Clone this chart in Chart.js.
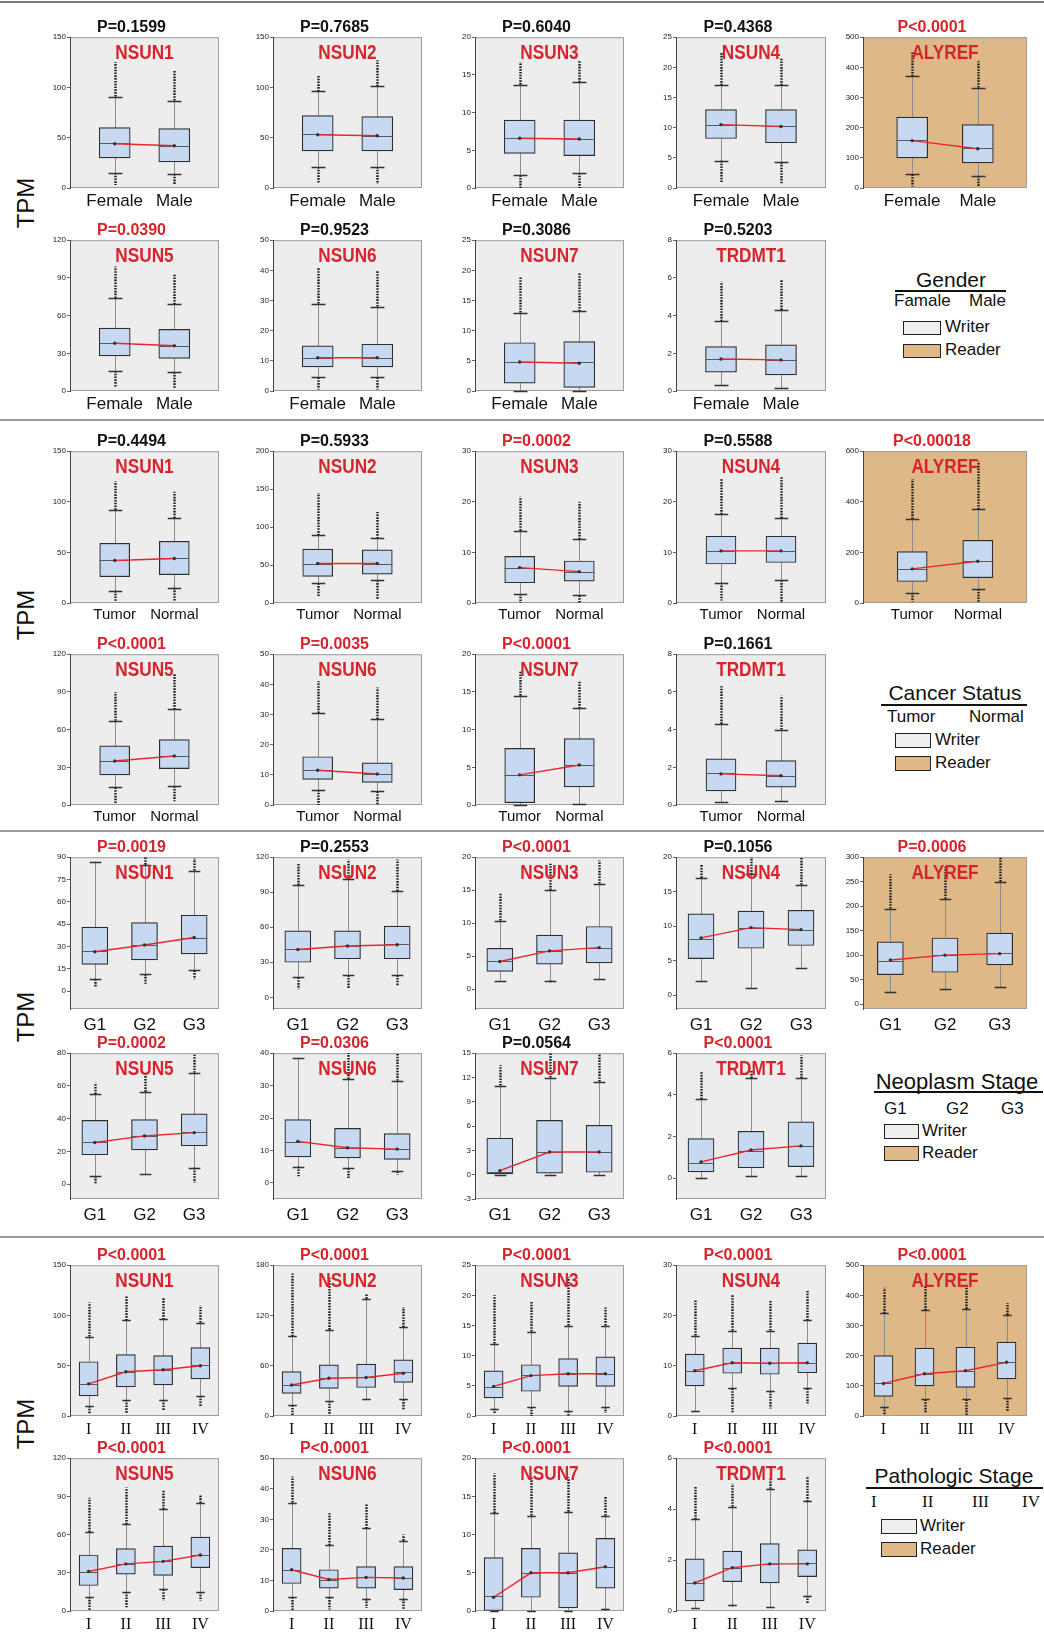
<!DOCTYPE html>
<html>
<head>
<meta charset="utf-8">
<script src="https://cdn.jsdelivr.net/npm/chart.js@4.4.1/dist/chart.umd.min.js"></script>
<style>
body { margin: 0; background: #fff; width: 1044px; height: 1636px; position: relative; overflow: hidden;
       font-family: "Liberation Sans", Arial, sans-serif; color: #111; }
canvas { position: absolute; }
.sep { position: absolute; left: 0; width: 1044px; height: 2px; background: #9a9a9a; }
.tpm { position: absolute; width: 70px; height: 30px; line-height: 30px; text-align: center; font-size: 24px;
       transform: rotate(-90deg); }
.lg { position: absolute; white-space: nowrap; }
.lg-title { font-size: 21px; text-align: center; width: 200px; line-height: 24px; }
.lg-line { position: absolute; height: 2px; background: #111; }
.lg-cat { font-size: 17px; line-height: 18px; }
.lg-box { position: absolute; border: 1.5px solid #222; box-sizing: border-box; }
.lg-txt { font-size: 17px; line-height: 18px; }
</style>
</head>
<body>

<div class="sep" style="top:1px;background:#777"></div>
<div class="sep" style="top:419px"></div>
<div class="sep" style="top:830px"></div>
<div class="sep" style="top:1236px"></div>

<div class="tpm" style="left:-9px;top:188px">TPM</div>
<div class="tpm" style="left:-9px;top:600px">TPM</div>
<div class="tpm" style="left:-9px;top:1002px">TPM</div>
<div class="tpm" style="left:-9px;top:1409px">TPM</div>

<!-- legend: gender -->
<div class="lg lg-title" style="left:851px;top:268px">Gender</div>
<div class="lg-line" style="left:895px;top:290px;width:111px"></div>
<div class="lg lg-cat" style="left:894px;top:292px">Famale</div>
<div class="lg lg-cat" style="left:969px;top:292px">Male</div>
<div class="lg-box" style="left:903px;top:321px;width:38px;height:14px;background:#efefef"></div>
<div class="lg lg-txt" style="left:945px;top:318px">Writer</div>
<div class="lg-box" style="left:903px;top:344px;width:38px;height:14px;background:#deb887"></div>
<div class="lg lg-txt" style="left:945px;top:341px">Reader</div>

<!-- legend: cancer status -->
<div class="lg lg-title" style="left:855px;top:681px">Cancer Status</div>
<div class="lg-line" style="left:881px;top:704px;width:146px"></div>
<div class="lg lg-cat" style="left:887px;top:708px">Tumor</div>
<div class="lg lg-cat" style="left:969px;top:708px">Normal</div>
<div class="lg-box" style="left:895px;top:733px;width:36px;height:15px;background:#efefef"></div>
<div class="lg lg-txt" style="left:935px;top:731px">Writer</div>
<div class="lg-box" style="left:895px;top:756px;width:36px;height:15px;background:#deb887"></div>
<div class="lg lg-txt" style="left:935px;top:754px">Reader</div>

<!-- legend: neoplasm stage -->
<div class="lg lg-title" style="left:857px;top:1070px;font-size:22px">Neoplasm Stage</div>
<div class="lg-line" style="left:874px;top:1091px;width:169px"></div>
<div class="lg lg-cat" style="left:884px;top:1100px">G1</div>
<div class="lg lg-cat" style="left:946px;top:1100px">G2</div>
<div class="lg lg-cat" style="left:1001px;top:1100px">G3</div>
<div class="lg-box" style="left:884px;top:1124px;width:35px;height:15px;background:#efefef"></div>
<div class="lg lg-txt" style="left:922px;top:1122px">Writer</div>
<div class="lg-box" style="left:884px;top:1146px;width:35px;height:15px;background:#deb887"></div>
<div class="lg lg-txt" style="left:922px;top:1144px">Reader</div>

<!-- legend: pathologic stage -->
<div class="lg lg-title" style="left:854px;top:1464px">Pathologic Stage</div>
<div class="lg-line" style="left:866px;top:1487px;width:177px"></div>
<div class="lg lg-cat" style="left:871px;top:1493px;font-family:'Liberation Serif',serif">I</div>
<div class="lg lg-cat" style="left:922px;top:1493px;font-family:'Liberation Serif',serif">II</div>
<div class="lg lg-cat" style="left:972px;top:1493px;font-family:'Liberation Serif',serif">III</div>
<div class="lg lg-cat" style="left:1022px;top:1493px;font-family:'Liberation Serif',serif">IV</div>
<div class="lg-box" style="left:881px;top:1519px;width:36px;height:15px;background:#efefef"></div>
<div class="lg lg-txt" style="left:920px;top:1517px">Writer</div>
<div class="lg-box" style="left:881px;top:1542px;width:36px;height:15px;background:#deb887"></div>
<div class="lg lg-txt" style="left:920px;top:1540px">Reader</div>

<script>
// genes in panel order (5 on the first row, 4 on the second)
const genes = ['NSUN1', 'NSUN2', 'NSUN3', 'NSUN4', 'ALYREF', 'NSUN5', 'NSUN6', 'NSUN7', 'TRDMT1'];
const geneIsReader = [false, false, false, false, true, false, false, false, false];

// ---- Gender ----
const genderCats = ['Female', 'Male'];
const genderP = ['P=0.1599', 'P=0.7685', 'P=0.6040', 'P=0.4368', 'P<0.0001', 'P=0.0390', 'P=0.9523', 'P=0.3086', 'P=0.5203'];
const genderPRed = [0, 0, 0, 0, 1, 1, 0, 0, 0];
const genderYMin = [0, 0, 0, 0, 0, 0, 0, 0, 0];
const genderYMax = [150, 150, 20, 25, 500, 120, 50, 25, 8];
const genderYStep = [50, 50, 5, 5, 100, 30, 10, 5, 2];
const genderQ1 = [[30, 26], [37, 37], [4.6, 4.3], [8.2, 7.5], [100, 83], [28, 26], [8, 8], [1.3, 0.6], [1.0, 0.85]];
const genderMed = [[45, 42], [54, 52], [6.6, 6.5], [10.5, 10.2], [160, 133], [38, 36], [11, 11], [4.8, 4.8], [1.7, 1.65]];
const genderQ3 = [[60, 59], [72, 71], [9, 9], [13, 13], [235, 210], [50, 49], [15, 15.5], [8, 8.2], [2.35, 2.45]];
const genderMean = [[44, 42], [53, 52], [6.6, 6.5], [10.5, 10.2], [157, 130], [38, 36], [11, 11], [4.8, 4.6], [1.7, 1.65]];
const genderLo = [[15, 14], [21, 21], [1.7, 2.0], [4.5, 4.3], [45, 40], [16, 15], [4.5, 4.5], [0, 0], [0.3, 0.15]];
const genderHi = [[91, 87], [96, 101], [13.7, 14], [17, 17], [370, 333], [74, 69], [29, 28], [13, 13.2], [3.7, 4.3]];
const genderOutMax = [[125, 117], [112, 127], [16.7, 16.8], [22.5, 21.5], [450, 420], [99, 93], [41, 40], [19, 19.7], [5.8, 5.9]];
const genderOutMin = [[3, 3], [5, 4], [0, 0], [1, 0.8], [5, 5], [3, 2], [0.5, 0.5], [0, 0], [0.3, 0.15]];

// ---- Cancer status ----
const tumorCats = ['Tumor', 'Normal'];
const tumorP = ['P=0.4494', 'P=0.5933', 'P=0.0002', 'P=0.5588', 'P<0.00018', 'P<0.0001', 'P=0.0035', 'P<0.0001', 'P=0.1661'];
const tumorPRed = [0, 0, 1, 0, 1, 1, 1, 1, 0];
const tumorYMin = [0, 0, 0, 0, 0, 0, 0, 0, 0];
const tumorYMax = [150, 200, 30, 30, 600, 120, 50, 20, 8];
const tumorYStep = [50, 50, 10, 10, 200, 30, 10, 5, 2];
const tumorQ1 = [[26, 28], [35, 38], [4, 4.3], [7.7, 8], [85, 100], [24, 29], [8.5, 7.5], [0.3, 2.4], [0.75, 0.95]];
const tumorMed = [[42, 44], [52, 52], [7, 6.2], [10.3, 10.3], [135, 165], [35, 39], [11.5, 10.3], [4, 5.3], [1.7, 1.55]];
const tumorQ3 = [[59, 61], [71, 70], [9.2, 8.3], [13.2, 13.2], [203, 248], [47, 52], [16, 14], [7.5, 8.8], [2.45, 2.35]];
const tumorMean = [[42, 44], [52, 52], [7, 6.2], [10.3, 10.3], [135, 165], [35, 39], [11.5, 10.3], [4, 5.3], [1.65, 1.55]];
const tumorLo = [[12, 15], [26, 30], [1.8, 1.5], [4, 4.5], [40, 55], [14, 15], [5, 4.5], [0, 0.1], [0.15, 0.2]];
const tumorHi = [[92, 84], [89, 85], [14.3, 12.6], [17.5, 16.8], [333, 370], [67, 76], [30.5, 28.5], [14.5, 12.8], [4.3, 4.0]];
const tumorOutMax = [[120, 110], [145, 120], [21, 20], [24.5, 25], [490, 560], [90, 105], [41, 39], [17.8, 16.5], [6.3, 5.8]];
const tumorOutMin = [[1, 2], [8, 5], [0, 0], [0.5, 0], [5, 5], [1, 3], [0, 0], [0, 0], [0.15, 0.2]];

// ---- Neoplasm stage ----
const gradeCats = ['G1', 'G2', 'G3'];
const gradeP = ['P=0.0019', 'P=0.2553', 'P<0.0001', 'P=0.1056', 'P=0.0006', 'P=0.0002', 'P=0.0306', 'P=0.0564', 'P<0.0001'];
const gradePRed = [1, 0, 1, 0, 1, 1, 1, 0, 1];
const gradeYMin = [-12, -10, -3, -2, -10, -9, -5, -3, -1];
const gradeYMax = [90, 120, 20, 20, 300, 80, 40, 15, 6];
const gradeYStep = [15, 30, 5, 5, 50, 20, 10, 3, 2];
const gradeQ1 = [[18, 21, 25], [30, 33, 33], [2.7, 3.8, 4], [5.3, 6.8, 7.2], [60, 65, 80], [18, 21, 23.5], [8, 7.7, 7.2], [0.1, 0.2, 0.3], [0.3, 0.5, 0.55]];
const gradeMed = [[27, 31, 36], [41, 44, 46], [4.2, 5.8, 6.2], [8.2, 9.8, 9.5], [88, 100, 105], [25.5, 29.5, 32], [12.7, 10.8, 10.4], [0.3, 2.8, 2.8], [0.75, 1.3, 1.55]];
const gradeQ3 = [[43, 46, 51], [57, 57, 61], [6.2, 8.2, 9.5], [11.8, 12.2, 12.3], [127, 135, 145], [39, 39.5, 43], [19.5, 16.8, 15.2], [4.5, 6.7, 6.1], [1.9, 2.25, 2.7]];
const gradeMean = [[26.5, 31, 36], [41, 44, 45], [4.2, 5.8, 6.3], [8.3, 9.8, 9.5], [90, 100, 103], [25.5, 29.5, 31.5], [12.8, 10.8, 10.4], [0.5, 2.8, 2.8], [0.78, 1.35, 1.55]];
const gradeLo = [[8, 11.5, 14], [17, 19, 19], [1.3, 1.3, 1.5], [2, 1, 4], [25, 30, 35], [5, 6, 10], [5, 4.5, 3.5], [0, 0, 0], [0, 0.1, 0.1]];
const gradeHi = [[87, 85, 81], [96, 101, 91], [10.4, 15, 16], [17, 17.5, 16], [195, 215, 250], [55, 56.5, 68], [38.5, 32, 31.5], [11, 12, 11.5], [3.8, 4.8, 4.8]];
const gradeOutMax = [[87, 90, 89], [115, 118, 118], [14.5, 19, 19.5], [19, 20, 20], [265, 280, 300], [62, 67, 79], [38.5, 40, 40], [13.5, 15, 15], [5.1, 5.2, 5.9]];
const gradeOutMin = [[3, 5, 8], [7, 8, 10], [1.3, 1.0, 1.5], [2, 1, 4], [25, 30, 35], [0, 6, 1], [2, 1.5, 2.5], [0, 0, 0], [0, 0.1, 0.1]];

// ---- Pathologic stage ----
const stageCats = ['I', 'II', 'III', 'IV'];
const stageP = ['P<0.0001', 'P<0.0001', 'P<0.0001', 'P<0.0001', 'P<0.0001', 'P<0.0001', 'P<0.0001', 'P<0.0001', 'P<0.0001'];
const stagePRed = [1, 1, 1, 1, 1, 1, 1, 1, 1];
const stageYMin = [0, 0, 0, 0, 0, 0, 0, 0, 0];
const stageYMax = [150, 180, 25, 30, 500, 120, 50, 20, 6];
const stageYStep = [50, 60, 5, 10, 100, 30, 10, 5, 2];
const stageQ1 = [[20, 29, 31, 37], [27, 33, 34, 40], [3, 4.1, 4.9, 4.9], [6, 8.5, 8.3, 8.6], [65, 100, 95, 123], [20, 29, 28, 34], [9, 7.5, 7.5, 7], [0, 1.8, 0.4, 3], [0.4, 1.15, 1.1, 1.35]];
const stageMed = [[32, 44, 46, 51], [37, 45, 46, 52], [4.8, 6.8, 7, 7], [9, 10.6, 10.5, 10.6], [110, 140, 150, 180], [31, 37, 39, 44], [13.5, 10.3, 11, 10.8], [2, 5, 5, 5.8], [1.1, 1.7, 1.85, 1.9]];
const stageQ3 = [[54, 61, 60, 68], [53, 61, 62, 67], [7.5, 8.5, 9.5, 9.8], [12.3, 13.5, 13.5, 14.5], [200, 225, 228, 245], [44, 49, 51, 58], [20.5, 13.5, 14.5, 14.5], [7, 8.2, 7.6, 9.5], [2.05, 2.35, 2.65, 2.4]];
const stageMean = [[32, 44, 46, 50], [37, 45, 46, 51], [4.9, 6.7, 7, 7], [9, 10.6, 10.5, 10.6], [108, 140, 150, 178], [31, 37, 39, 44], [13.5, 10.3, 11, 10.8], [1.8, 5, 5, 5.8], [1.1, 1.7, 1.85, 1.85]];
const stageLo = [[10, 16, 16, 20], [13, 18, 20, 20], [1.2, 1.5, 0.8, 1.5], [1, 5.5, 5, 5.5], [30, 55, 55, 60], [11, 15, 17, 15], [4.5, 4.5, 4, 4], [0, 0, 0, 0.3], [0.1, 0.25, 0.15, 0.6]];
const stageHi = [[79, 95, 96, 93], [95, 103, 140, 106], [12, 14, 15, 15], [16, 17, 17, 19], [340, 350, 355, 335], [62, 68, 80, 85], [35.5, 21.5, 27, 23], [12.8, 12.5, 13, 12.5], [3.6, 4.1, 4.8, 4.3]];
const stageOutMax = [[113, 120, 118, 110], [170, 165, 145, 130], [20, 19, 23, 18], [23, 24, 23, 25], [425, 430, 435, 375], [89, 97, 95, 91], [44, 32, 35, 25], [18, 17.5, 17.5, 15], [4.9, 5.0, 5.2, 5.3]];
const stageOutMin = [[2, 3, 5, 10], [0, 1, 20, 8], [0.5, 0, 0, 0.5], [1, 0.5, 1.5, 2.5], [5, 10, 0, 15], [0, 3, 8, 8], [0, 0.5, 1, 0.5], [0, 0, 0, 0], [0.1, 0.15, 0.15, 0.3]];

const sections = [
    { cats: genderCats, p: genderP, red: genderPRed, yMin: genderYMin, yMax: genderYMax, yStep: genderYStep,
      q1: genderQ1, med: genderMed, q3: genderQ3, mean: genderMean, lo: genderLo, hi: genderHi, outMax: genderOutMax, outMin: genderOutMin },
    { cats: tumorCats, p: tumorP, red: tumorPRed, yMin: tumorYMin, yMax: tumorYMax, yStep: tumorYStep,
      q1: tumorQ1, med: tumorMed, q3: tumorQ3, mean: tumorMean, lo: tumorLo, hi: tumorHi, outMax: tumorOutMax, outMin: tumorOutMin },
    { cats: gradeCats, p: gradeP, red: gradePRed, yMin: gradeYMin, yMax: gradeYMax, yStep: gradeYStep,
      q1: gradeQ1, med: gradeMed, q3: gradeQ3, mean: gradeMean, lo: gradeLo, hi: gradeHi, outMax: gradeOutMax, outMin: gradeOutMin },
    { cats: stageCats, p: stageP, red: stagePRed, yMin: stageYMin, yMax: stageYMax, yStep: stageYStep,
      q1: stageQ1, med: stageMed, q3: stageQ3, mean: stageMean, lo: stageLo, hi: stageHi, outMax: stageOutMax, outMin: stageOutMin }
];

// layout (pixels) and per-section look
const rowPlotTop = [[37, 240], [451, 654], [857, 1053], [1265, 1458]];
const rowPlotH = [[151, 151], [152, 151], [152, 146], [151, 153]];
const colPlotLeft = [70, 273, 475, 676, 863];
const colPlotW = [149, 149, 149, 150, 164];
const sectionBarW = [31, 30, 26, 19];
const sectionXRange = [[-0.75, 1.75], [-0.75, 1.75], [-0.5, 2.5], [-0.5, 3.5]];
const sectionTickPad = [3, 3, 6, 4];
const sectionTickFont = [
    { family: 'Liberation Sans', size: 17 },
    { family: 'Liberation Sans', size: 15 },
    { family: 'Liberation Sans', size: 17 },
    { family: 'Liberation Serif', size: 16 }
];

const RED = '#d8232c';
const WRITER_BG = '#ededed';
const READER_BG = '#deb887';

function boxPlugin(sec, g, barW, gene, bg) {
    return {
        id: 'boxplot',
        beforeDraw(chart) {
            const { ctx, chartArea: a } = chart;
            ctx.save();
            ctx.fillStyle = bg;
            ctx.fillRect(a.left, a.top, a.width, a.height);
            ctx.strokeStyle = '#9c9c9c';
            ctx.lineWidth = 1;
            ctx.strokeRect(a.left + 0.5, a.top + 0.5, a.width - 1, a.height - 1);
            ctx.restore();
        },
        beforeDatasetsDraw(chart) {
            const { ctx, scales: { x, y } } = chart;
            const cap = barW * 0.45;
            ctx.save();
            sec.lo[g].forEach((lo, i) => {
                const px = Math.round(x.getPixelForValue(i)) + 0.5;
                const hi = sec.hi[g][i];
                // whisker stem
                ctx.strokeStyle = '#8c8c8c';
                ctx.lineWidth = 1;
                ctx.setLineDash([]);
                ctx.beginPath();
                ctx.moveTo(px, y.getPixelForValue(lo));
                ctx.lineTo(px, y.getPixelForValue(hi));
                ctx.stroke();
                // outliers
                ctx.strokeStyle = '#1a1a1a';
                ctx.lineWidth = 2.4;
                ctx.setLineDash([1.6, 1.2]);
                ctx.beginPath();
                if (sec.outMax[g][i] > hi) {
                    ctx.moveTo(px, y.getPixelForValue(hi));
                    ctx.lineTo(px, y.getPixelForValue(sec.outMax[g][i]));
                }
                if (sec.outMin[g][i] < lo) {
                    ctx.moveTo(px, y.getPixelForValue(lo));
                    ctx.lineTo(px, y.getPixelForValue(sec.outMin[g][i]));
                }
                ctx.stroke();
                // caps
                ctx.setLineDash([]);
                ctx.strokeStyle = '#333';
                ctx.lineWidth = 1.5;
                ctx.beginPath();
                [lo, hi].forEach(v => {
                    const py = Math.round(y.getPixelForValue(v)) + 0.5;
                    ctx.moveTo(px - cap / 2, py);
                    ctx.lineTo(px + cap / 2, py);
                });
                ctx.stroke();
            });
            ctx.restore();
        },
        afterDatasetDraw(chart, args) {
            if (args.index !== 0) return;
            const { ctx, scales: { x, y } } = chart;
            ctx.save();
            ctx.strokeStyle = '#5a5a5a';
            ctx.lineWidth = 1;
            sec.med[g].forEach((m, i) => {
                const px = x.getPixelForValue(i);
                const py = Math.round(y.getPixelForValue(m)) + 0.5;
                ctx.beginPath();
                ctx.moveTo(px - barW / 2, py);
                ctx.lineTo(px + barW / 2, py);
                ctx.stroke();
            });
            ctx.restore();
        },
        afterDraw(chart) {
            const { ctx, chartArea: a } = chart;
            ctx.save();
            ctx.fillStyle = RED;
            ctx.font = 'bold 20px "Liberation Sans", Arial, sans-serif';
            ctx.textAlign = 'center';
            ctx.textBaseline = 'middle';
            ctx.translate((a.left + a.right) / 2, a.top + 16);
            ctx.scale(0.86, 1);
            ctx.fillText(gene, 0, 0);
            ctx.restore();
        }
    };
}

sections.forEach((sec, s) => {
    genes.forEach((gene, g) => {
        const row = g < 5 ? 0 : 1;
        const col = g < 5 ? g : g - 5;
        const plotTop = rowPlotTop[s][row];
        const plotH = rowPlotH[s][row];
        const plotLeft = colPlotLeft[col];
        const plotW = colPlotW[col];

        const canvas = document.createElement('canvas');
        const w = plotW + 34, h = plotH + 50;
        canvas.width = w; canvas.height = h;
        canvas.style.width = w + 'px'; canvas.style.height = h + 'px';
        canvas.style.left = (plotLeft - 30) + 'px';
        canvas.style.top = (plotTop - 24) + 'px';
        document.body.appendChild(canvas);

        const barW = sectionBarW[s];
        const bg = geneIsReader[g] ? READER_BG : WRITER_BG;

        new Chart(canvas.getContext('2d'), {
            type: 'bar',
            data: {
                datasets: [
                    {
                        type: 'bar',
                        data: sec.q1[g].map((v, i) => ({ x: i, y: [v, sec.q3[g][i]] })),
                        backgroundColor: '#c6d9f0',
                        borderColor: '#2e2e2e',
                        borderWidth: 1.2,
                        borderSkipped: false,
                        barThickness: barW,
                        order: 2
                    },
                    {
                        type: 'line',
                        data: sec.mean[g].map((v, i) => ({ x: i, y: v })),
                        borderColor: '#e8262e',
                        borderWidth: 1.4,
                        tension: 0,
                        pointRadius: 1.7,
                        pointBorderWidth: 0,
                        pointBackgroundColor: '#333',
                        order: 1
                    }
                ]
            },
            options: {
                responsive: false,
                animation: false,
                events: [],
                layout: { padding: { left: 4, right: 4, top: 0, bottom: 0 } },
                scales: {
                    x: {
                        type: 'linear',
                        offset: false,
                        min: sectionXRange[s][0],
                        max: sectionXRange[s][1],
                        afterBuildTicks: (scale) => { scale.ticks = sec.cats.map((c, i) => ({ value: i })); },
                        afterFit: (scale) => { scale.height = 26; },
                        grid: { display: false, drawTicks: false },
                        border: { display: false },
                        ticks: {
                            autoSkip: false,
                            maxRotation: 0,
                            padding: sectionTickPad[s],
                            color: '#111',
                            font: sectionTickFont[s],
                            callback: (v) => (sec.cats[v] !== undefined ? sec.cats[v] : '')
                        }
                    },
                    y: {
                        min: sec.yMin[g],
                        max: sec.yMax[g],
                        afterFit: (scale) => { scale.width = 26; },
                        grid: { display: true, drawOnChartArea: false, tickLength: 3, color: '#666' },
                        border: { display: true, color: '#444', width: 1 },
                        ticks: {
                            stepSize: sec.yStep[g],
                            includeBounds: false,
                            padding: 1,
                            color: '#222',
                            font: { family: 'Liberation Sans', size: 8 }
                        }
                    }
                },
                plugins: {
                    legend: { display: false },
                    tooltip: { enabled: false },
                    title: {
                        display: true,
                        text: sec.p[g],
                        color: sec.red[g] ? RED : '#111',
                        font: { family: 'Liberation Sans', size: 16, weight: 'bold', lineHeight: 1.2 },
                        padding: { top: 5, bottom: 0 }
                    }
                }
            },
            plugins: [boxPlugin(sec, g, barW, gene, bg)]
        });
    });
});
</script>
</body>
</html>
